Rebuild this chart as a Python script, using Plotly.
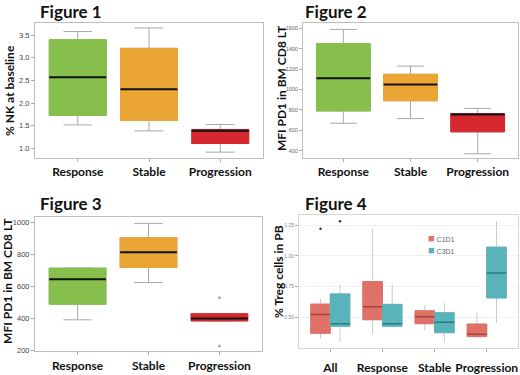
import plotly.graph_objects as go

# ---------------- data ----------------
cats3 = ["Response", "Stable", "Progression"]
cat_colors = ["#86BF4B", "#EBA535", "#D7282F"]

# Figure 1: % NK at baseline
f1_q1 = [1.73, 1.62, 1.11]
f1_med = [2.57, 2.31, 1.39]
f1_q3 = [3.40, 3.21, 1.42]
f1_lo = [1.52, 1.39, 0.92]
f1_hi = [3.58, 3.66, 1.53]
f1_ticks = [1.0, 1.5, 2.0, 2.5, 3.0, 3.5]

# Figure 2: MFI PD1 in BM CD8 LT
f2_q1 = [790, 890, 585]
f2_med = [1110, 1050, 755]
f2_q3 = [1450, 1150, 765]
f2_lo = [670, 715, 370]
f2_hi = [1590, 1230, 815]
f2_ticks = [400, 600, 800, 1000, 1200, 1400, 1600]

# Figure 3: MFI PD1 in BM CD8 LT
f3_q1 = [490, 720, 385]
f3_med = [645, 815, 400]
f3_q3 = [715, 905, 430]
f3_lo = [392, 625, 385]
f3_hi = [715, 995, 430]
f3_out_cat = [2, 2]
f3_out_val = [530, 229]
f3_ticks = [200, 400, 600, 800, 1000]

# Figure 4: % Treg cells in PB
cats4 = ["All", "Response", "Stable", "Progression"]
groups4 = ["C1D1", "C3D1"]
g4_colors = ["#DF7168", "#58B4BA"]
g4_median_colors = ["#A3463F", "#2C7C81"]
c1_q1 = [0.370, 0.480, 0.448, 0.343]
c1_med = [0.523, 0.586, 0.505, 0.362]
c1_q3 = [0.607, 0.790, 0.553, 0.445]
c1_lo = [0.330, 0.367, 0.396, 0.328]
c1_hi = [0.649, 1.220, 0.600, 0.539]
c1_out_cat = [0]
c1_out_val = [1.22]
c3_q1 = [0.427, 0.427, 0.375, 0.657]
c3_med = [0.448, 0.448, 0.460, 0.860]
c3_q3 = [0.690, 0.605, 0.537, 1.070]
c3_lo = [0.300, 0.414, 0.296, 0.453]
c3_hi = [0.766, 0.766, 0.615, 1.280]
c3_out_cat = [0]
c3_out_val = [1.28]
f4_ticks = [0.50, 0.75, 1.00, 1.25]

# ---------------- helpers ----------------
W, H = 520, 375
def xd(a, b):
    return [a / W, b / W]
def yd(top, bottom):
    return [1 - bottom / H, 1 - top / H]

fig = go.Figure()

def add_box(xa, ya, pos, q1, med, q3, lo, hi, fill, wcol, width, cap, medcol, medw):
    # whiskers
    fig.add_trace(go.Box(x=[pos], q1=[q1], median=[med], q3=[q3],
                         lowerfence=[lo], upperfence=[hi], width=width,
                         fillcolor=fill, line=dict(color=wcol, width=1),
                         whiskerwidth=cap, boxpoints=False, showlegend=False,
                         hoverinfo="skip", xaxis=xa, yaxis=ya))
    # body
    fig.add_trace(go.Box(x=[pos], q1=[q1], median=[med], q3=[q3],
                         lowerfence=[q1], upperfence=[q3], width=width,
                         fillcolor=fill, line=dict(color=fill, width=1),
                         whiskerwidth=0, boxpoints=False, showlegend=False,
                         hoverinfo="skip", xaxis=xa, yaxis=ya))
    # median
    fig.add_trace(go.Scatter(x=[pos - width / 2, pos + width / 2], y=[med, med],
                             mode="lines", line=dict(color=medcol, width=medw),
                             showlegend=False, hoverinfo="skip", xaxis=xa, yaxis=ya))

BW = 0.8
panels3 = [
    ("x", "y", f1_q1, f1_med, f1_q3, f1_lo, f1_hi),
    ("x2", "y2", f2_q1, f2_med, f2_q3, f2_lo, f2_hi),
    ("x3", "y3", f3_q1, f3_med, f3_q3, f3_lo, f3_hi),
]
for xa, ya, q1, med, q3, lo, hi in panels3:
    for i in range(len(cats3)):
        add_box(xa, ya, i, q1[i], med[i], q3[i], lo[i], hi[i],
                cat_colors[i], "#A8A8A8", BW, 0.5, "#111111", 2)

fig.add_trace(go.Scatter(x=f3_out_cat, y=f3_out_val, mode="markers",
                         marker=dict(color="#AAAAAA", size=3), showlegend=False,
                         hoverinfo="skip", xaxis="x3", yaxis="y3"))

DODGE = 0.1875
BW4 = 0.375
series4 = [
    (c1_q1, c1_med, c1_q3, c1_lo, c1_hi, c1_out_cat, c1_out_val),
    (c3_q1, c3_med, c3_q3, c3_lo, c3_hi, c3_out_cat, c3_out_val),
]
for g, (q1, med, q3, lo, hi, oc, ov) in enumerate(series4):
    off = -DODGE if g == 0 else DODGE
    for i in range(len(cats4)):
        add_box("x4", "y4", i + off, q1[i], med[i], q3[i], lo[i], hi[i],
                g4_colors[g], "#CACACA", BW4, 0, g4_median_colors[g], 1.5)
    fig.add_trace(go.Scatter(x=[c + off for c in oc], y=ov, mode="markers",
                             marker=dict(color="#333333", size=2.5), showlegend=False,
                             hoverinfo="skip", xaxis="x4", yaxis="y4"))

# ---------------- axes ----------------
cat_font = dict(family="Lato", size=12, color="#111111", weight="bold")

def xaxis(dom, anchor, cats, lc):
    return dict(domain=dom, anchor=anchor, range=[-0.6, len(cats) - 0.4],
                tickvals=list(range(len(cats))), ticktext=cats, tickfont=cat_font,
                ticks="outside", ticklen=3, tickcolor="#AAAAAA",
                showline=True, linecolor=lc, linewidth=1, mirror=True,
                showgrid=False, zeroline=False, fixedrange=True)

def yaxis(dom, anchor, rng, ticks, fmt, tsize, lc, tcol="#444444", grid=False):
    return dict(domain=dom, anchor=anchor, range=rng, tickvals=ticks,
                tickformat=fmt, tickfont=dict(family="Liberation Sans", size=tsize, color=tcol),
                ticks="outside", ticklen=3, tickcolor="#AAAAAA",
                showline=True, linecolor=lc, linewidth=1, mirror=True,
                showgrid=grid, gridcolor="#F2F2F2", zeroline=False, fixedrange=True)

fig.update_layout(
    xaxis=xaxis(xd(35, 263), "y", cats3, "#BDBDBD"),
    yaxis=yaxis(yd(23, 161), "x", [0.8, 3.78], f1_ticks, ".1f", 7.5, "#BDBDBD"),
    xaxis2=xaxis(xd(303, 518), "y2", cats3, "#BDBDBD"),
    yaxis2=yaxis(yd(24, 161), "x2", [333, 1648], f2_ticks, "d", 5.5, "#BDBDBD", "#666666"),
    xaxis3=xaxis(xd(35, 262), "y3", cats3, "#BDBDBD"),
    yaxis3=yaxis(yd(222, 359), "x3", [195, 1033], f3_ticks, "d", 7.5, "#BDBDBD"),
    xaxis4=xaxis(xd(299, 518), "y4", cats4, "#D6D6D6"),
    yaxis4=yaxis(yd(220, 356), "x4", [0.247, 1.329], f4_ticks, ".2f", 5, "#D6D6D6", "#888888", grid=True),
)
fig.layout.xaxis4.ticklabelstandoff = 5

# ---------------- text ----------------
ann = []
title_font = dict(family="Lato", size=17, color="#111111", weight="bold")
for txt, x, y in [("Figure 1", 38, 12), ("Figure 2", 303, 12),
                  ("Figure 3", 38, 208), ("Figure 4", 303, 208)]:
    ann.append(dict(text=txt, x=x / W, y=1 - y / H, xref="paper", yref="paper",
                    xanchor="left", yanchor="middle", showarrow=False, font=title_font))

ytitle_font = dict(family="Lato", size=12, color="#111111", weight="bold")
for txt, x, y in [("% NK at baseline", 9, 93), ("MFI PD1 in BM CD8 LT", 281, 90),
                  ("MFI PD1 in BM CD8 LT", 8, 287), ("% Treg cells in PB", 278, 278)]:
    ann.append(dict(text=txt, x=x / W, y=1 - y / H, xref="paper", yref="paper",
                    xanchor="center", yanchor="middle", textangle=-90,
                    showarrow=False, font=ytitle_font))

for g, (name, y) in enumerate(zip(groups4, [243, 255])):
    ann.append(dict(text='<span style="color:%s;font-size:11px">■</span> %s' % (g4_colors[g], name),
                    x=426 / W, y=1 - y / H, xref="paper", yref="paper",
                    xanchor="left", yanchor="middle", showarrow=False,
                    font=dict(family="Liberation Sans", size=7, color="#666666")))

fig.update_layout(
    width=W, height=H, margin=dict(l=0, r=0, t=0, b=0),
    paper_bgcolor="white", plot_bgcolor="white",
    boxmode="overlay", showlegend=False, annotations=ann,
)

fig.write_html("out.html", config={"displayModeBar": False},
               post_script="document.body.style.margin='0';document.body.style.padding='0';document.body.style.overflow='hidden';")
